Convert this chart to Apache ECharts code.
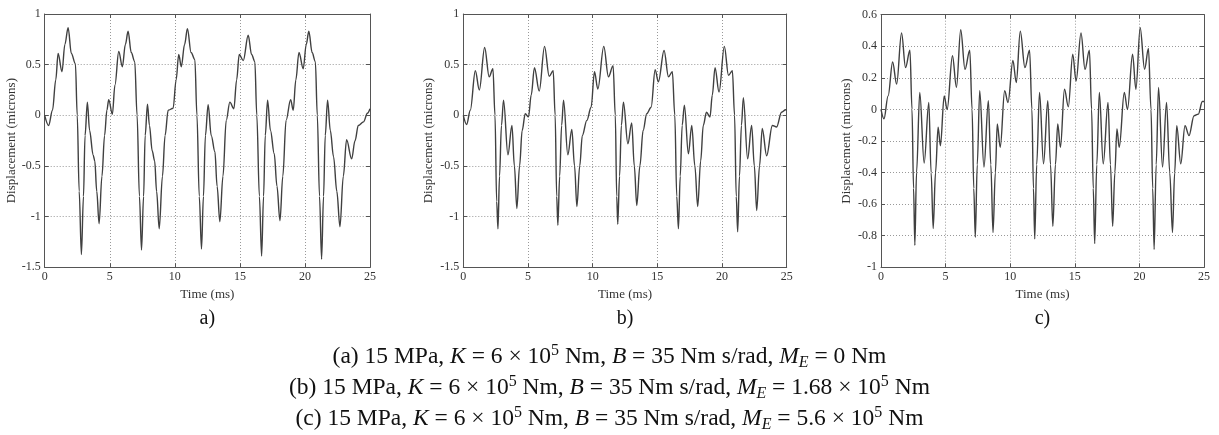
<!DOCTYPE html>
<html><head><meta charset="utf-8">
<script src="https://cdn.jsdelivr.net/npm/echarts@6/dist/echarts.min.js"></script>
<style>html,body{margin:0;padding:0;background:#fff}#c{width:1219px;height:435px}</style>
</head><body><div id="c"></div>
<script>
// ---- data ----
const timeTicks = [0, 5, 10, 15, 20, 25];
const dispTicksAB = [-1.5, -1, -0.5, 0, 0.5, 1];
const dispTicksC = [-1, -0.8, -0.6, -0.4, -0.2, 0, 0.2, 0.4, 0.6];

const timeA = [0,0.3,0.6,0.85,1.03,1.33,1.55,1.8,2.05,2.36,2.5,2.65,2.82,2.98,3.1,3.28,3.45,3.72,3.85,4.0,4.18,4.4,4.6,4.78,4.92,5.2,5.4,5.69,5.97,6.2,6.41,6.65,6.92,7.1,7.28,7.44,7.6,7.72,7.9,8.05,8.26,8.45,8.6,8.8,9.05,9.25,9.49,9.87,10.1,10.3,10.5,10.75,10.97,11.25,11.54,11.7,11.88,12.05,12.2,12.35,12.56,12.8,13.08,13.25,13.46,13.7,13.95,14.23,14.54,14.75,14.95,15.26,15.64,15.9,16.15,16.3,16.5,16.67,16.82,16.95,17.13,17.35,17.64,17.85,18.08,18.3,18.55,18.9,19.1,19.3,19.54,19.87,20.1,20.3,20.55,20.8,20.95,21.12,21.28,21.43,21.56,21.74,21.95,22.2,22.45,22.69,22.95,23.2,23.59,23.85,24.1,24.5,24.8,25];
const dispA = [0,-0.1,0.05,0.35,0.61,0.43,0.7,0.865,0.61,0.51,0.0,-0.75,-1.375,-0.8,-0.2,0.13,-0.15,-0.39,-0.45,-0.75,-1.07,-0.6,-0.2,0.05,0.155,0.01,0.3,0.63,0.48,0.7,0.83,0.62,0.53,0.0,-0.8,-1.33,-0.8,-0.2,0.11,-0.1,-0.35,-0.45,-0.75,-1.12,-0.6,-0.2,0.05,0.07,0.35,0.6,0.48,0.7,0.855,0.62,0.55,0.0,-0.8,-1.32,-0.8,-0.2,0.105,-0.2,-0.36,-0.7,-1.05,-0.6,-0.05,0.13,0.065,0.35,0.6,0.54,0.79,0.6,0.53,0.0,-0.8,-1.39,-0.8,-0.2,0.15,-0.15,-0.38,-0.7,-1.04,-0.6,-0.05,0.155,0.05,0.35,0.62,0.46,0.7,0.83,0.62,0.53,0.0,-0.8,-1.42,-0.8,-0.2,0.15,-0.15,-0.41,-0.75,-1.1,-0.6,-0.24,-0.43,-0.25,-0.1,-0.065,0.02,0.065];

const timeB = [0,0.26,0.54,0.93,1.24,1.65,2.0,2.29,2.45,2.58,2.68,2.8,2.95,3.11,3.45,3.76,3.95,4.14,4.35,4.55,4.79,5.04,5.25,5.5,5.87,6.28,6.64,6.95,7.1,7.22,7.31,7.45,7.6,7.75,8.08,8.39,8.6,8.78,9.0,9.2,9.55,9.88,10.14,10.4,10.86,11.22,11.58,11.75,11.86,11.94,12.08,12.22,12.38,12.72,13.02,13.22,13.41,13.65,13.9,14.18,14.52,14.83,15.08,15.52,15.86,16.16,16.35,16.5,16.63,16.77,16.92,17.09,17.4,17.66,17.9,18.12,18.35,18.55,18.8,19.07,19.25,19.46,19.77,20.18,20.5,20.8,20.97,21.1,21.21,21.35,21.5,21.65,21.98,22.29,22.5,22.68,22.9,23.11,23.45,23.89,24.22,24.6,24.92,25];
const dispB = [0,-0.09,0.05,0.44,0.25,0.67,0.38,0.46,0.0,-0.85,-1.12,-0.6,-0.1,0.15,-0.39,-0.1,-0.5,-0.92,-0.5,-0.15,0.016,-0.015,0.2,0.47,0.24,0.68,0.385,0.44,0.0,-0.8,-1.085,-0.6,-0.1,0.15,-0.39,-0.14,-0.5,-0.9,-0.5,-0.2,-0.05,0.08,0.43,0.26,0.68,0.38,0.49,0.0,-0.8,-1.075,-0.6,-0.1,0.13,-0.28,-0.075,-0.5,-0.89,-0.5,-0.15,0.016,0.08,0.45,0.33,0.64,0.38,0.43,0.0,-0.8,-1.12,-0.6,-0.1,0.1,-0.38,-0.1,-0.5,-0.9,-0.45,-0.1,0.03,-0.016,0.2,0.47,0.23,0.68,0.395,0.44,0.0,-0.8,-1.15,-0.6,-0.1,0.175,-0.43,-0.1,-0.5,-0.94,-0.5,-0.13,-0.4,-0.1,-0.115,0.03,0.055,0.05];

const timeC = [0,0.23,0.55,0.9,1.21,1.59,1.9,2.24,2.4,2.52,2.62,2.75,3.0,3.34,3.7,3.88,4.04,4.22,4.42,4.6,4.89,5.12,5.53,5.84,6.17,6.5,6.87,7.05,7.18,7.3,7.45,7.64,7.97,8.31,8.5,8.67,8.85,9.0,9.23,9.57,9.83,10.21,10.47,10.78,11.14,11.5,11.68,11.8,11.9,12.05,12.27,12.58,12.91,13.12,13.3,13.5,13.68,13.89,14.2,14.5,14.84,15.1,15.48,15.79,16.13,16.3,16.43,16.54,16.7,16.9,17.2,17.57,17.76,17.93,18.1,18.26,18.44,18.83,19.08,19.47,19.73,20.06,20.4,20.7,20.9,21.03,21.14,21.3,21.48,21.79,22.1,22.35,22.56,22.73,22.89,23.2,23.53,23.84,24.23,24.56,24.87,25];
const dispC = [0,-0.06,0.086,0.3,0.16,0.485,0.265,0.375,0.0,-0.5,-0.86,-0.4,0.107,-0.34,0.044,-0.4,-0.755,-0.4,-0.113,-0.23,0.086,0.0,0.34,0.14,0.505,0.254,0.375,0.0,-0.5,-0.81,-0.35,0.118,-0.365,0.055,-0.35,-0.78,-0.4,-0.092,-0.24,0.118,0.044,0.31,0.17,0.496,0.265,0.375,0.0,-0.5,-0.82,-0.35,0.107,-0.345,0.055,-0.35,-0.74,-0.35,-0.092,-0.24,0.128,0.017,0.35,0.18,0.485,0.254,0.375,0.0,-0.5,-0.85,-0.35,0.107,-0.345,0.044,-0.35,-0.74,-0.4,-0.124,-0.24,0.107,0.0,0.35,0.128,0.517,0.254,0.386,0.0,-0.5,-0.887,-0.35,0.139,-0.365,0.044,-0.4,-0.78,-0.4,-0.103,-0.345,-0.103,-0.166,-0.04,-0.03,0.05,0.05];

const panelLabels = ['a)', 'b)', 'c)'];
const xName = 'Time (ms)';
const yName = 'Displacement (microns)';

// ---- layout ----
const grids = [
  {left: 44.7, top: 14, width: 325.3, height: 253.3},
  {left: 463.3, top: 14, width: 323.4, height: 253.3},
  {left: 881, top: 14.7, width: 323, height: 252.6}
];
const yNameGaps = [21, 28, 28];
const FONT = '"Liberation Serif", "DejaVu Serif", serif';
const pairs = (t, v) => t.map((x, i) => [x, v[i]]);
const seriesData = [pairs(timeA, dispA), pairs(timeB, dispB), pairs(timeC, dispC)];
const yTicks = [dispTicksAB, dispTicksAB, dispTicksC];

const xAxes = [], yAxes = [];
for (let k = 0; k < 2; k++) {
  for (let i = 0; i < 3; i++) {
    const bottom = k === 0;
    xAxes.push({
      type: 'value', gridIndex: i, position: bottom ? 'bottom' : 'top',
      min: timeTicks[0], max: timeTicks[timeTicks.length - 1], interval: timeTicks[1] - timeTicks[0],
      name: bottom ? xName : '', nameLocation: 'middle', nameGap: 17,
      nameTextStyle: {fontFamily: FONT, fontSize: 13, color: '#333'},
      axisLine: {show: true, onZero: false, lineStyle: {color: '#555', width: 1}},
      axisTick: {show: true, inside: true, length: 4, lineStyle: {color: '#555'}},
      axisLabel: {show: bottom, margin: 4, fontFamily: FONT, fontSize: 12, color: '#333'},
      splitLine: {show: bottom, lineStyle: {type: [1, 2], color: '#999', width: 1}}
    });
  }
}
for (let k = 0; k < 2; k++) {
  for (let i = 0; i < 3; i++) {
    const left = k === 0;
    const tk = yTicks[i];
    yAxes.push({
      type: 'value', gridIndex: i, position: left ? 'left' : 'right',
      min: tk[0], max: tk[tk.length - 1], interval: +(tk[1] - tk[0]).toFixed(3),
      name: left ? yName : '', nameLocation: 'middle', nameGap: yNameGaps[i],
      nameTextStyle: {fontFamily: FONT, fontSize: 13, color: '#333'},
      axisLine: {show: true, onZero: false, lineStyle: {color: '#555', width: 1}},
      axisTick: {show: true, inside: true, length: 4, lineStyle: {color: '#555'}},
      axisLabel: {show: left, margin: 4, fontFamily: FONT, fontSize: 12, color: '#333'},
      splitLine: {show: left, lineStyle: {type: [1, 2], color: '#999', width: 1}}
    });
  }
}

const series = seriesData.map((d, i) => ({
  type: 'line', xAxisIndex: i, yAxisIndex: i, data: d,
  showSymbol: false, smooth: 0.35, smoothMonotone: 'x', silent: true,
  lineStyle: {color: '#404040', width: 1.4}, animation: false
}));

const capBase = {fontFamily: FONT, fontSize: 23.5, color: '#111', lineHeight: 28};
const rich = {
  n: {...capBase},
  i: {...capBase, fontStyle: 'italic'},
  sup: {...capBase, fontSize: 16, verticalAlign: 'top', lineHeight: 26},
  sub: {...capBase, fontSize: 16, fontStyle: 'italic', verticalAlign: 'bottom', lineHeight: 26}
};
const captions = [
  '{n|(a) 15 MPa, }{i|K}{n| = 6 × 10}{sup|5}{n| Nm, }{i|B}{n| = 35 Nm s/rad, }{i|M}{sub|E}{n| = 0 Nm}',
  '{n|(b) 15 MPa, }{i|K}{n| = 6 × 10}{sup|5}{n| Nm, }{i|B}{n| = 35 Nm s/rad, }{i|M}{sub|E}{n| = 1.68 × 10}{sup|5}{n| Nm}',
  '{n|(c) 15 MPa, }{i|K}{n| = 6 × 10}{sup|5}{n| Nm, }{i|B}{n| = 35 Nm s/rad, }{i|M}{sub|E}{n| = 5.6 × 10}{sup|5}{n| Nm}'
];
const capY = [357, 388, 419];
const graphic = [];
panelLabels.forEach((t, i) => {
  graphic.push({type: 'text', x: grids[i].left + grids[i].width / 2, y: 319,
    style: {text: t, fontFamily: FONT, fontSize: 20, fill: '#111', align: 'center', verticalAlign: 'middle'}});
});
captions.forEach((t, i) => {
  graphic.push({type: 'text', x: 609.5, y: capY[i],
    style: {text: t, rich: rich, align: 'center', verticalAlign: 'middle', fill: '#111'}});
});

const chart = echarts.init(document.getElementById('c'), null, {renderer: 'canvas'});
chart.setOption({
  animation: false,
  backgroundColor: '#fff',
  grid: grids.map(g => ({...g, containLabel: false})),
  xAxis: xAxes, yAxis: yAxes, series: series, graphic: graphic
});
</script></body></html>
